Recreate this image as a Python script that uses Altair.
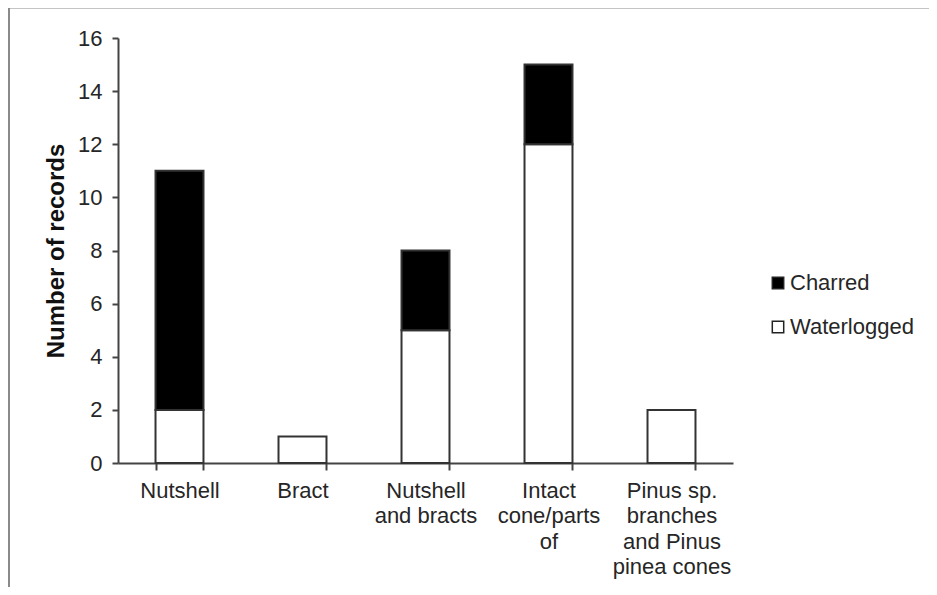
import json
import altair as alt
import pandas as pd

categories = [
    "Nutshell",
    "Bract",
    "Nutshell and bracts",
    "Intact cone/parts of",
    "Pinus sp. branches and Pinus pinea cones",
]
label_lines = [
    ["Nutshell"],
    ["Bract"],
    ["Nutshell", "and bracts"],
    ["Intact", "cone/parts", "of"],
    ["Pinus sp.", "branches", "and Pinus", "pinea cones"],
]
series = ["Charred", "Waterlogged"]
waterlogged = [2, 1, 5, 12, 2]
charred = [9, 0, 3, 3, 0]
y_ticks = [0, 2, 4, 6, 8, 10, 12, 14, 16]

rows = []
for c, w, ch in zip(categories, waterlogged, charred):
    if w:
        rows.append({"category": c, "state": "Waterlogged", "count": w, "order": 0})
    if ch:
        rows.append({"category": c, "state": "Charred", "count": ch, "order": 1})
df = pd.DataFrame(rows)

label_expr = json.dumps(dict(zip(categories, label_lines))) + "[datum.value]"

FONT = "Liberation Sans"
AX = "#444444"
TXT = "#262626"

bars = alt.Chart(df).mark_bar(stroke="#333333", strokeWidth=2).encode(
    x=alt.X(
        "category:N",
        sort=categories,
        scale=alt.Scale(paddingInner=0.61, paddingOuter=0.305),
        axis=alt.Axis(
            title=None,
            labelAngle=0,
            labelExpr=label_expr,
            labelFont=FONT,
            labelFontSize=22,
            labelColor=TXT,
            labelLineHeight=25.5,
            labelPadding=10,
            labelBaseline="top",
            tickBand="extent",
            tickSize=7,
            tickColor=AX,
            tickWidth=2,
            domainColor=AX,
            domainWidth=2,
            grid=False,
        ),
    ),
    y=alt.Y(
        "count:Q",
        stack="zero",
        scale=alt.Scale(domain=[0, 16], nice=False),
        axis=alt.Axis(
            values=y_ticks,
            title="Number of records",
            titleFont=FONT,
            titleFontSize=24,
            titleFontWeight="bold",
            titleColor="#111111",
            titlePadding=9,
            labelFont=FONT,
            labelFontSize=22,
            labelColor=TXT,
            labelPadding=10,
            tickSize=6,
            tickColor=AX,
            tickWidth=2,
            domainColor=AX,
            domainWidth=2,
            grid=False,
        ),
    ),
    color=alt.Color(
        "state:N",
        scale=alt.Scale(domain=series, range=["#000000", "#ffffff"]),
        legend=alt.Legend(
            title=None,
            orient="none",
            legendX=649,
            legendY=234,
            padding=0,
            symbolType="square",
            symbolSize=130,
            symbolStrokeColor="#222222",
            symbolStrokeWidth=1.5,
            labelFont=FONT,
            labelFontSize=22,
            labelColor=TXT,
            labelOffset=1,
            rowPadding=22,
        ),
    ),
    order=alt.Order("order:Q"),
)

frame_df = pd.DataFrame({"k": [0]})
top_line = alt.Chart(frame_df).mark_rule(color="#8a8a8a", strokeWidth=2).encode(
    x=alt.value(-110), x2=alt.value(811), y=alt.value(-30.5)
)
left_line = alt.Chart(frame_df).mark_rule(color="#8a8a8a", strokeWidth=2).encode(
    x=alt.value(-109), y=alt.value(-31), y2=alt.value(560)
)

chart = (
    alt.layer(bars, top_line, left_line)
    .properties(
        width=615,
        height=425,
        background="white",
        autosize=alt.AutoSizeParams(type="none"),
        padding={"left": 110, "top": 30, "right": 196, "bottom": 124},
    )
    .configure_view(stroke=None, strokeWidth=0)
)

chart.save("out.html", embed_options={"renderer": "svg", "actions": False})
